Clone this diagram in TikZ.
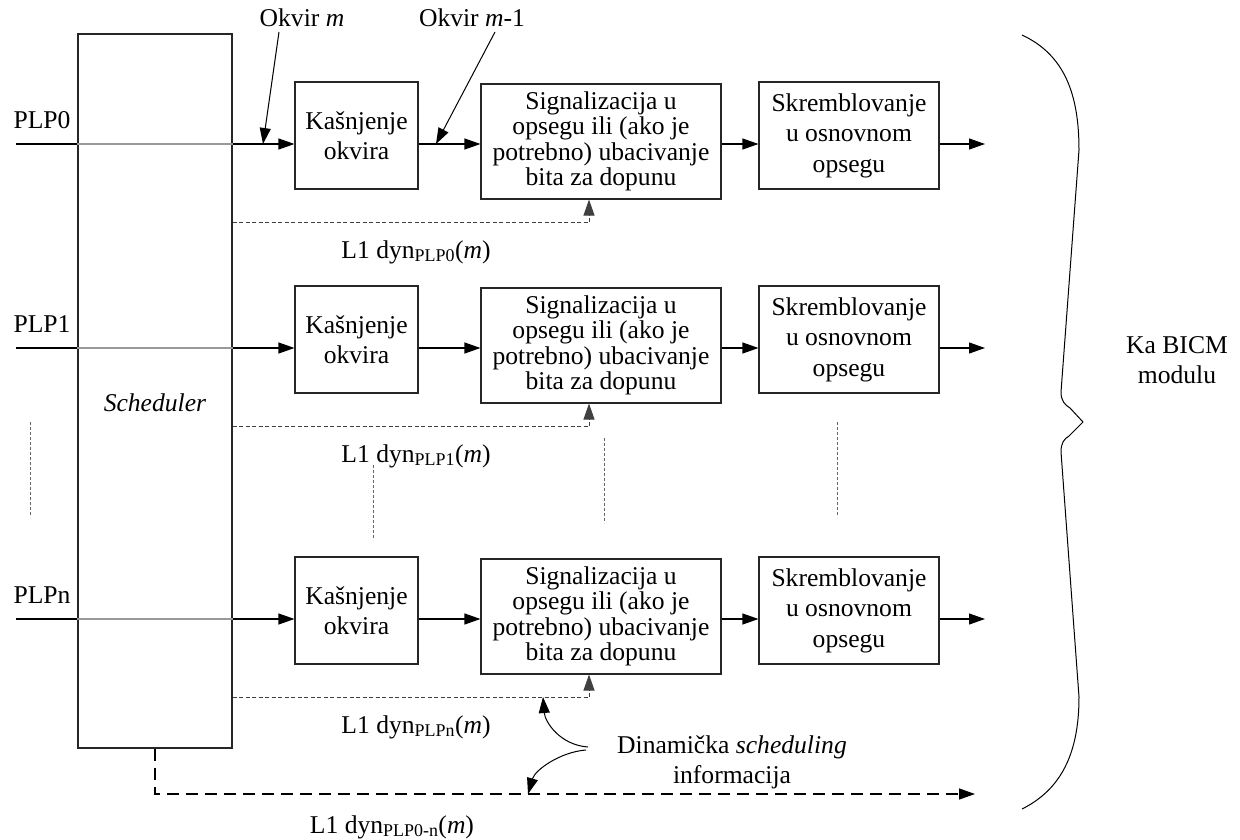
\documentclass[tikz,border=0pt]{standalone}
\usepackage{fontspec}
\setmainfont{Liberation Serif}
\usetikzlibrary{arrows.meta}

\begin{document}
\begin{tikzpicture}[x=1pt,y=-1pt,
  every node/.style={font=\fontsize{25.6}{30.5}\selectfont, inner sep=0pt},
  blk/.style={draw=black!85, line width=1.1pt, align=center},
  tip/.style={-{Triangle[length=16pt,width=11pt]}},
  flow/.style={tip, line width=1.1pt},
  ptr/.style={tip, line width=1pt},
  finedash/.style={line width=1pt, black!75, dash pattern=on 4pt off 2.5pt},
  bigdash/.style={line width=1.4pt, dash pattern=on 12pt off 7pt},
  dots/.style={line width=0.9pt, black!60, dash pattern=on 3pt off 2pt},
  curly/.style={line width=1pt}
]
\useasboundingbox (0,0) rectangle (1240,840);

% scheduler block
\node[blk, minimum width=154pt, minimum height=714pt] (sch) at (155,391) {};
\node (schlab) at (155,403) {\textit{Scheduler}};

% one processing chain per PLP
\foreach \r/\o in {0/0, 1/204, n/475}{
  \node (plp\r) at (42,120+\o) {PLP\r};
  \coordinate (in\r) at (16,144+\o);
  \coordinate (out\r) at (985,144+\o);
  \coordinate (dl\r) at (589,222+\o);
  \node[blk, minimum width=123pt, minimum height=107pt] (kas\r) at (356.5,135.5+\o) {Kašnjenje\\okvira};
  \node[blk, minimum width=240pt, minimum height=115pt,
        font=\fontsize{25.6}{25.5}\selectfont] (sig\r) at (601,141.5+\o)
        {Signalizacija u\\opsegu ili (ako je\\potrebno) ubacivanje\\bita za dopunu};
  \node[blk, minimum width=180pt, minimum height=107pt] (skr\r) at (849,135.5+\o) {Skremblovanje\\u osnovnom\\opsegu};
  \node (l1\r) at (416,252+\o) {L1 dyn\textsubscript{PLP\r}(\textit{m})};
  % input passing through the scheduler
  \draw[line width=1.1pt] (in\r) -- (sch.west |- in\r);
  \draw[line width=1.1pt, black!40] (sch.west |- in\r) -- (sch.east |- in\r);
  \draw[flow] (sch.east |- in\r) -- (kas\r.west |- in\r);
  \draw[flow] (kas\r.east |- in\r) -- (sig\r.west |- in\r);
  \draw[flow] (sig\r.east |- in\r) -- (skr\r.west |- in\r);
  \draw[flow] (skr\r.east |- in\r) -- (out\r);
  % dynamic signalling to the in-band block
  \draw[finedash] (sch.east |- dl\r) -- (dl\r);
  \draw[finedash, tip] (dl\r) -- (sig\r.south -| dl\r);
}

% frame labels
\node (okm) at (302,18) {Okvir \textit{m}};
\coordinate (okmA) at (279,32);
\coordinate (okmB) at (263,144);
\draw[ptr] (okmA) -- (okmB);
\node (okm1) at (472,18) {Okvir \textit{m}-1};
\coordinate (okm1A) at (495,32);
\coordinate (okm1B) at (436,144);
\draw[ptr] (okm1A) -- (okm1B);

% continuation marks between PLP1 and PLPn
\draw[dots] (30,422) -- (30,515);
\draw[dots] (373,465) -- (373,540);
\draw[dots] (604,438) -- (604,523);
\draw[dots] (837,422) -- (837,515);

% scheduling information for all PLPs
\coordinate (bot) at (975,794);
\draw[bigdash, tip] (sch.south) -- (sch.south |- bot) -- (bot);
\node (l1all) at (392,827) {L1 dyn\textsubscript{PLP0-n}(\textit{m})};

% dynamic scheduling note with its pointers
\node[align=center, font=\fontsize{25.6}{30}\selectfont] (dyn) at (732,762) {Dinamička \textit{scheduling}\\informacija};
\coordinate (dynA) at (588,747);
\coordinate (dynB) at (586,750);
\coordinate (dynT1) at (543,697);
\coordinate (dynT2) at (528,794);
\draw[ptr] (dynA) .. controls (560,745) and (545,722) .. (dynT1);
\draw[ptr] (dynB) .. controls (560,752) and (535,770) .. (dynT2);

% brace towards the BICM module
\draw[curly] (1022,35) .. controls (1065,55) and (1079,95) .. (1079,150)
  -- (1061,392) .. controls (1061,401) and (1065,405) .. (1070,408)
  -- (1083,422) -- (1069,436)
  .. controls (1064,439) and (1061,443) .. (1061,452)
  -- (1079,697) .. controls (1079,755) and (1060,790) .. (1022,809);
\node[align=center, font=\fontsize{25.6}{30}\selectfont] (bicm) at (1177,360) {Ka BICM\\modulu};
\end{tikzpicture}
\end{document}
